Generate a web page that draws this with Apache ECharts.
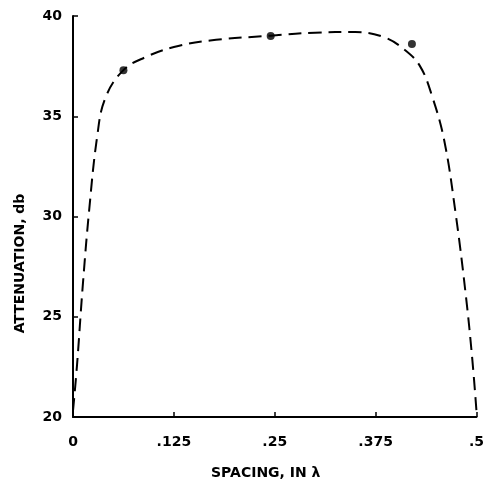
<!DOCTYPE html>
<html>
<head>
<meta charset="utf-8">
<script src="https://cdn.jsdelivr.net/npm/echarts@6/dist/echarts.min.js"></script>
<style>
html,body{margin:0;padding:0;background:#fff;}
#c{width:487px;height:485px;}
</style>
</head>
<body>
<div id="c"></div>
<script>
var xTicks = [0, 0.125, 0.25, 0.375, 0.5];
var xTickLabels = ['0', '.125', '.25', '.375', '.5'];
var yTicks = [20, 25, 30, 35, 40];

var curveX = [0, 0.005, 0.012, 0.02, 0.03, 0.04, 0.0625, 0.09, 0.125, 0.17, 0.245, 0.30, 0.35, 0.385, 0.41, 0.43, 0.445, 0.46, 0.474, 0.487, 0.495, 0.5];
var curveY = [20.3, 22.6, 26.5, 30.3, 34.0, 35.9, 37.3, 37.95, 38.45, 38.78, 39.02, 39.17, 39.2, 38.95, 38.35, 37.5, 36.0, 33.8, 30.2, 26.0, 22.8, 20.3];

var pointsX = [0.0625, 0.245, 0.42];
var pointsY = [37.3, 39.0, 38.6];

var curveData = curveX.map(function (x, i) { return [x, curveY[i]]; });
var pointData = pointsX.map(function (x, i) { return [x, pointsY[i]]; });

var font = 'DejaVu Sans, sans-serif';
var chart = echarts.init(document.getElementById('c'));
chart.setOption({
  animation: false,
  backgroundColor: '#fff',
  grid: { left: 73, right: 6, top: 16, bottom: 63, containLabel: false },
  xAxis: {
    type: 'value', min: 0, max: 0.5, interval: 0.125,
    axisLine: { show: true, lineStyle: { color: '#000', width: 2 } },
    axisTick: { show: true, inside: true, length: 5, lineStyle: { color: '#000', width: 1.5 } },
    splitLine: { show: false },
    axisLabel: {
      color: '#000', fontSize: 14, fontWeight: 'bold', fontFamily: font, margin: 18,
      formatter: function (v) { var i = xTicks.indexOf(v); return i >= 0 ? xTickLabels[i] : ''; }
    },
    name: 'SPACING, IN λ', nameLocation: 'middle', nameGap: 49,
    nameTextStyle: { color: '#000', fontSize: 14, fontWeight: 'bold', fontFamily: font, padding: [0, 18, 0, 0] }
  },
  yAxis: {
    type: 'value', min: 20, max: 40, interval: 5,
    axisLine: { show: true, lineStyle: { color: '#000', width: 2 } },
    axisTick: { show: true, inside: true, length: 5, lineStyle: { color: '#000', width: 1.5 } },
    splitLine: { show: false },
    axisLabel: {
      color: '#000', fontSize: 14, fontWeight: 'bold', fontFamily: font, margin: 11,
      formatter: function (v) { return yTicks.indexOf(v) >= 0 ? String(v) : ''; }
    },
    name: 'ATTENUATION, db', nameLocation: 'middle', nameGap: 46, nameRotate: 90,
    nameTextStyle: { color: '#000', fontSize: 14, fontWeight: 'bold', fontFamily: font, padding: [0, 94, 0, 0] }
  },
  series: [
    {
      type: 'line', data: curveData, showSymbol: false, smooth: 0.4,
      lineStyle: { color: '#000', width: 2, type: [13, 7] }, z: 2
    },
    {
      type: 'scatter', data: pointData, symbol: 'circle', symbolSize: 8,
      itemStyle: { color: '#000' }, z: 3
    }
  ]
});
</script>
</body>
</html>
